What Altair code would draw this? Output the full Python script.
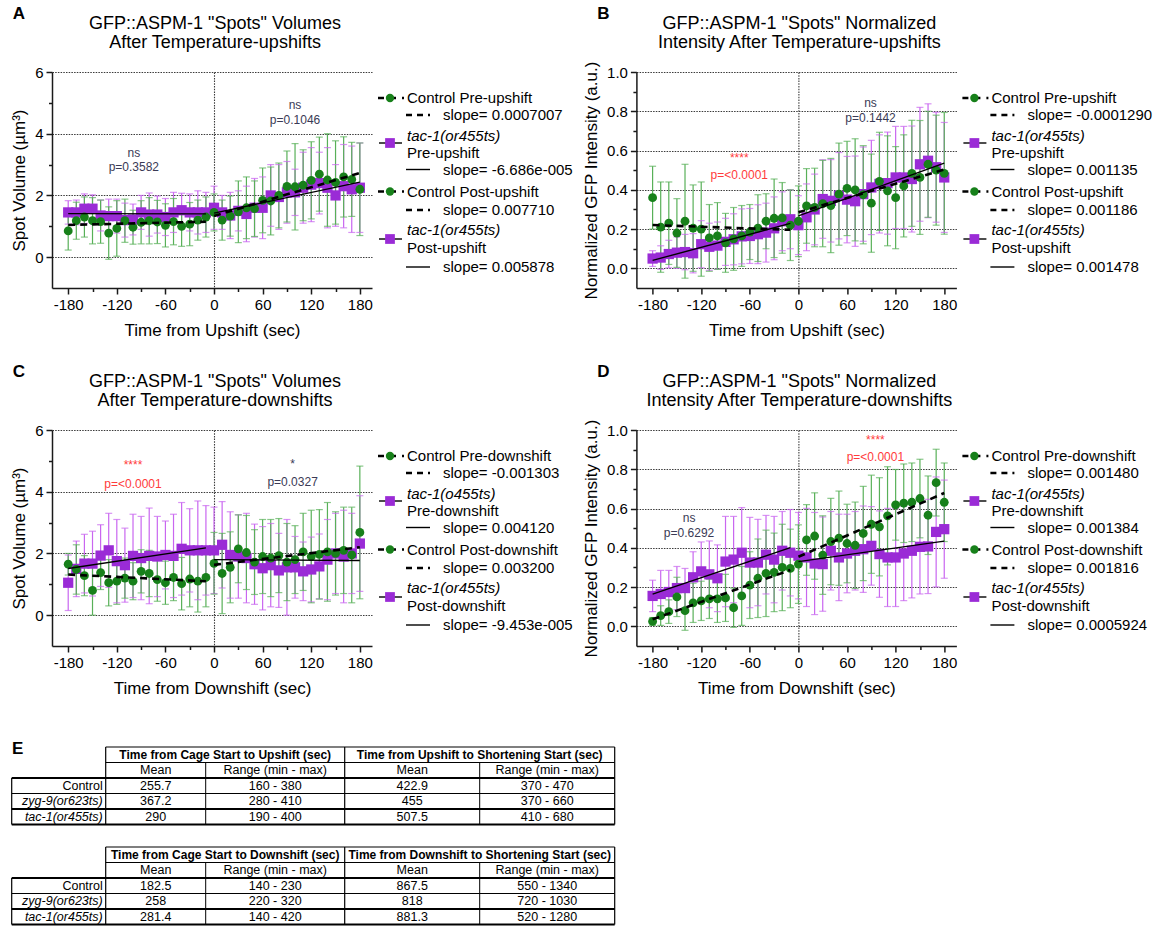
import altair as alt
import pandas as pd

FONT = "Liberation Sans"
TFONT = "Liberation Sans Narrow, Liberation Sans, sans-serif"

# ---------------- data ----------------
TIME = list(range(-180, 181, 10))

A_CTRL = [0.85, 1.18, 1.30, 1.18, 1.15, 0.78, 0.93, 1.18, 0.97, 1.13, 1.18, 1.14, 1.03, 1.15, 1.00, 1.07, 1.20, 1.30,
          1.45, 1.20, 1.33, 1.47, 1.60, 1.57, 1.84, 1.82, 2.00, 2.29, 2.28, 2.33, 2.49, 2.69, 2.50, 2.42, 2.60, 2.52, 2.20]
A_CTRL_SD = [0.62, 0.60, 0.65, 0.75, 0.70, 0.85, 0.90, 0.70, 0.55, 0.70, 0.75, 0.70, 0.70, 0.75, 0.65, 0.70, 0.65, 0.65,
             0.60, 0.65, 0.65, 1.00, 1.00, 0.90, 1.05, 1.10, 1.05, 1.15, 1.40, 1.15, 1.25, 1.20, 1.50, 1.35, 1.30, 1.20, 1.50]
A_TAC = [1.45, 1.45, 1.57, 1.57, 1.35, 1.33, 1.33, 1.20, 1.22, 1.45, 1.38, 1.38, 1.30, 1.45, 1.52, 1.45, 1.45, 1.45,
         1.60, 1.45, 1.35, 1.50, 1.40, 1.60, 1.60, 2.00, 1.95, 2.10, 2.10, 2.25, 2.35, 2.40, 2.25, 2.00, 2.30, 2.20, 2.25]
A_TAC_SD = [0.38, 0.40, 0.48, 0.45, 0.50, 0.55, 0.55, 0.55, 0.50, 0.55, 0.70, 0.60, 0.60, 0.65, 0.55, 0.60, 0.70, 0.65,
            0.70, 0.55, 0.75, 0.65, 0.90, 0.95, 1.00, 1.00, 1.05, 1.00, 0.75, 1.15, 1.20, 1.00, 1.30, 1.00, 1.35, 1.40, 1.45]

B_CTRL = [0.36, 0.21, 0.23, 0.18, 0.24, 0.205, 0.20, 0.155, 0.165, 0.13, 0.15, 0.165, 0.185, 0.205, 0.24, 0.255, 0.257, 0.22,
          0.24, 0.318, 0.31, 0.33, 0.32, 0.378, 0.407, 0.40, 0.375, 0.332, 0.443, 0.395, 0.36, 0.42, 0.484, 0.463, 0.53, 0.50, 0.484]
B_CTRL_SD = [0.16, 0.23, 0.21, 0.175, 0.29, 0.22, 0.24, 0.17, 0.17, 0.15, 0.16, 0.155, 0.14, 0.17, 0.14, 0.20, 0.18, 0.18,
             0.18, 0.19, 0.20, 0.22, 0.24, 0.26, 0.24, 0.26, 0.25, 0.25, 0.25, 0.28, 0.26, 0.26, 0.27, 0.29, 0.27, 0.28, 0.31]
B_TAC = [0.05, 0.055, 0.073, 0.08, 0.083, 0.077, 0.123, 0.11, 0.116, 0.135, 0.148, 0.163, 0.165, 0.174, 0.182, 0.204, 0.24, 0.25,
         0.22, 0.26, 0.30, 0.353, 0.344, 0.37, 0.35, 0.342, 0.378, 0.412, 0.43, 0.434, 0.463, 0.463, 0.455, 0.53, 0.548, 0.515, 0.463]
B_TAC_SD = [0.04, 0.06, 0.07, 0.08, 0.09, 0.10, 0.12, 0.12, 0.12, 0.12, 0.13, 0.14, 0.14, 0.15, 0.15, 0.16, 0.15, 0.15,
            0.15, 0.17, 0.18, 0.20, 0.21, 0.22, 0.22, 0.23, 0.24, 0.24, 0.25, 0.26, 0.26, 0.26, 0.27, 0.29, 0.29, 0.28, 0.28]

C_CTRL = [1.65, 1.48, 1.28, 0.80, 1.38, 1.05, 1.10, 1.20, 1.10, 1.42, 1.35, 1.15, 1.05, 1.22, 1.02, 1.17, 1.10, 1.22,
          1.68, 1.35, 1.55, 2.15, 2.03, 1.72, 1.90, 1.85, 1.93, 1.72, 1.80, 2.05, 1.90, 1.97, 2.05, 2.00, 2.10, 1.95, 2.68]
C_CTRL_SD = [0.35, 0.80, 0.65, 0.80, 0.55, 0.75, 0.75, 0.65, 0.60, 0.70, 0.75, 0.70, 0.70, 0.75, 0.85, 0.90, 1.00, 0.95,
             1.00, 1.30, 1.15, 1.10, 1.20, 1.05, 1.20, 1.25, 1.20, 1.25, 1.10, 1.25, 1.50, 1.45, 1.60, 1.35, 1.40, 1.55, 2.15]
C_TAC = [1.05, 1.50, 1.67, 1.67, 1.93, 2.10, 1.75, 1.62, 1.92, 1.85, 1.92, 1.90, 1.95, 1.92, 2.15, 2.10, 2.10, 2.10,
         2.10, 2.28, 1.95, 1.90, 1.85, 1.65, 1.52, 1.62, 1.45, 1.55, 1.55, 1.42, 1.48, 1.58, 1.80, 2.00, 1.90, 2.00, 2.32]
C_TAC_SD = [0.90, 0.90, 0.95, 1.05, 1.00, 1.20, 1.35, 1.20, 1.35, 1.35, 1.55, 1.30, 1.10, 1.35, 1.50, 1.35, 1.60, 1.45,
            1.40, 1.40, 1.40, 1.35, 1.45, 1.30, 1.35, 1.35, 1.20, 1.55, 1.00, 0.95, 1.05, 1.05, 1.30, 1.30, 1.50, 1.30, 1.55]

D_CTRL = [0.025, 0.055, 0.075, 0.15, 0.08, 0.12, 0.13, 0.14, 0.14, 0.145, 0.095, 0.155, 0.21, 0.245, 0.27, 0.275, 0.30, 0.295,
          0.317, 0.44, 0.46, 0.363, 0.432, 0.449, 0.422, 0.413, 0.473, 0.52, 0.507, 0.563, 0.619, 0.627, 0.632, 0.651, 0.566, 0.732, 0.632]
D_CTRL_SD = [0.02, 0.05, 0.06, 0.10, 0.10, 0.10, 0.10, 0.10, 0.12, 0.12, 0.10, 0.15, 0.17, 0.20, 0.22, 0.20, 0.22, 0.20,
             0.20, 0.18, 0.22, 0.20, 0.22, 0.24, 0.20, 0.22, 0.24, 0.25, 0.25, 0.25, 0.18, 0.20, 0.20, 0.20, 0.20, 0.17, 0.20]
D_TAC = [0.155, 0.165, 0.175, 0.195, 0.195, 0.25, 0.28, 0.265, 0.245, 0.33, 0.34, 0.375, 0.325, 0.325, 0.365, 0.34, 0.385, 0.375,
         0.36, 0.351, 0.32, 0.317, 0.385, 0.351, 0.371, 0.385, 0.393, 0.41, 0.368, 0.351, 0.351, 0.371, 0.385, 0.405, 0.407, 0.481, 0.495]
D_TAC_SD = [0.08, 0.12, 0.11, 0.11, 0.10, 0.13, 0.15, 0.17, 0.17, 0.23, 0.22, 0.23, 0.23, 0.22, 0.20, 0.22, 0.20, 0.22,
            0.22, 0.25, 0.26, 0.24, 0.20, 0.22, 0.20, 0.20, 0.22, 0.20, 0.22, 0.25, 0.25, 0.24, 0.24, 0.24, 0.24, 0.28, 0.25]

# significance annotations: text, time, value, significant?
A_ANN = (["ns", "p=0.3582", "ns", "p=0.1046"], [-99, -99, 100, 100], [3.38, 2.92, 4.92, 4.45], [False, False, False, False])
B_ANN = (["****", "p=<0.0001", "ns", "p=0.1442"], [-73, -73, 89, 89], [0.56, 0.475, 0.843, 0.765], [True, True, False, False])
C_ANN = (["****", "p=<0.0001", "*", "p=0.0327"], [-100, -100, 97, 97], [4.86, 4.26, 4.90, 4.30], [True, True, False, False])
D_ANN = (["ns", "p=0.6292", "****", "p=<0.0001"], [-135, -135, 95, 95], [0.554, 0.478, 0.947, 0.863], [False, False, True, True])

A_LEG = ["Control Pre-upshift", "slope= 0.0007007", "tac-1(or455ts)", "Pre-upshift", "slope= -6.686e-005",
         "Control Post-upshift", "slope= 0.007710", "tac-1(or455ts)", "Post-upshift", "slope= 0.005878"]
B_LEG = ["Control Pre-upshift", "slope= -0.0001290", "tac-1(or455ts)", "Pre-upshift", "slope= 0.001135",
         "Control Post-upshift", "slope= 0.001186", "tac-1(or455ts)", "Post-upshift", "slope= 0.001478"]
C_LEG = ["Control Pre-downshift", "slope= -0.001303", "tac-1(o455ts)", "Pre-downshift", "slope= 0.004120",
         "Control Post-downshift", "slope= 0.003200", "tac-1(or455ts)", "Post-downshift", "slope= -9.453e-005"]
D_LEG = ["Control Pre-downshift", "slope= 0.001480", "tac-1(or455ts)", "Pre-downshift", "slope= 0.001384",
         "Control Post-downshift", "slope= 0.001816", "tac-1(or455ts)", "Post-downshift", "slope= 0.0005924"]

A_TITLE = ["GFP::ASPM-1 \"Spots\" Volumes", "After Temperature-upshifts"]
B_TITLE = ["GFP::ASPM-1 \"Spots\" Normalized", "Intensity After Temperature-upshifts"]
C_TITLE = ["GFP::ASPM-1 \"Spots\" Volumes", "After Temperature-downshifts"]
D_TITLE = ["GFP::ASPM-1 \"Spots\" Normalized", "Intensity After Temperature-downshifts"]

VOL_TITLE = "Spot Volume (\u00b5m\u00b3)"
INT_TITLE = "Normalized GFP Intensity (a.u.)"

TAB_ROWS = ["Control", "zyg-9(or623ts)", "tac-1(or455ts)"]
TAB_SUB = ["Mean", "Range (min - max)", "Mean", "Range (min - max)"]
TAB1_HEAD = ["Time from Cage Start to Upshift (sec)", "Time from Upshift to Shortening Start (sec)"]
TAB1_VALS = [["255.7", "160 - 380", "422.9", "370 - 470"],
             ["367.2", "280 - 410", "455", "370 - 660"],
             ["290", "190 - 400", "507.5", "410 - 680"]]
TAB2_HEAD = ["Time from Cage Start to Downshift (sec)", "Time from Downshift to Shortening Start (sec)"]
TAB2_VALS = [["182.5", "140 - 230", "867.5", "550 - 1340"],
             ["258", "220 - 320", "818", "720 - 1030"],
             ["281.4", "140 - 420", "881.3", "520 - 1280"]]

# ---------------- style / layout ----------------
GREEN = "#17801a"
GREEN_EB = "#58b058"
PURPLE = "#9a2bd6"
PURPLE_EB = "#c966f0"
NS_COLOR = "#3a3a55"
SIG_COLOR = "#ff3b3b"

W, H = 320, 216
LEFT, TOP = 52.3, 72.0
HSP, VSP = 264.4, 142.0

DUMMY = pd.DataFrame({"k": [0]})


def make_df(ctrl, ctrl_sd, tac, tac_sd):
    rows = []
    for grp, means, sds in (("tac", tac, tac_sd), ("ctrl", ctrl, ctrl_sd)):
        for t, m, s in zip(TIME, means, sds):
            rows.append(dict(t=t, group=grp, phase="pre" if t < 0 else "post",
                             mean=m, lo=m - s, hi=m + s))
    return pd.DataFrame(rows)


def cond(test, a, b):
    return {"condition": {"test": test, "value": a}, "value": b}


def axis(**kw):
    base = dict(labelFont=FONT, labelFontSize=15, labelColor="black",
                titleFont=FONT, titleFontSize=17, titleFontWeight="normal", titleColor="black",
                domainColor="#1a1a1a", domainWidth=1.5, tickColor="#1a1a1a", tickWidth=1.5,
                labelOverlap=False, labelFlush=False,
                gridColor="#3a3a3a", gridDash=[1.5, 1.2], gridWidth=1.1)
    base.update(kw)
    return alt.Axis(**base)


def text_at(s, x, y, size=15, italic=False, bold=False, align="left", color="black", font=FONT):
    return alt.Chart(pd.DataFrame({"s": [s]})).mark_text(
        align=align, baseline="middle", fontSize=size, font=font, color=color,
        fontStyle="italic" if italic else "normal", fontWeight="bold" if bold else "normal"
    ).encode(x=alt.value(x), y=alt.value(y), text="s:N")


def hline(x0, x1, y, width, dash=None):
    kw = dict(color="black", strokeWidth=width)
    if dash:
        kw["strokeDash"] = dash
    return alt.Chart(DUMMY).mark_rule(**kw).encode(x=alt.value(x0), x2=alt.value(x1), y=alt.value(y))


def legend_layers(labels):
    ys = dict(c1=26, c1s=43, t1a=64, t1sym=71, t1b=80.5, t1s=97.5,
              c2=119.5, c2s=138, t2a=158, t2sym=167, t2b=176, t2s=195)
    TX, SX = 355, 391
    out = []
    for key, lab, slope in (("c1", labels[0], labels[1]), ("c2", labels[5], labels[6])):
        y = ys[key]
        out.append(hline(326, 352, y, 2.6, [6, 6]))
        out.append(alt.Chart(DUMMY).mark_point(shape="circle", filled=True, size=70, opacity=1, color=GREEN)
                   .encode(x=alt.value(338), y=alt.value(y)))
        out.append(text_at(lab, TX, y))
        out.append(hline(354, 378, ys[key + "s"], 2.6, [6, 5]))
        out.append(text_at(slope, SX, ys[key + "s"]))
    for key, ital, lab, slope in (("t1", labels[2], labels[3], labels[4]), ("t2", labels[7], labels[8], labels[9])):
        ysym = ys[key + "sym"]
        out.append(hline(327, 350, ysym, 1.4))
        out.append(alt.Chart(DUMMY).mark_point(shape="square", filled=True, size=95, opacity=1, color=PURPLE)
                   .encode(x=alt.value(338), y=alt.value(ysym)))
        out.append(text_at(ital, TX, ys[key + "a"], italic=True))
        out.append(text_at(lab, TX, ys[key + "b"]))
        out.append(hline(354, 378, ys[key + "s"], 1.4))
        out.append(text_at(slope, SX, ys[key + "s"]))
    return out


def panel(df, ydom, yvals, ymaj, yfmt, ytitle, xtitle, title, letter, ann, leg, anchor=False):
    xs = alt.Scale(domain=[-200, 195], nice=False, zero=False)
    ys = alt.Scale(domain=ydom, nice=False, zero=False)
    xmaj = "datum.value % 60 == 0"
    xaxis = axis(title=xtitle, values=list(range(-180, 181, 30)),
                 labelExpr=f"({xmaj}) ? toString(datum.value) : ''",
                 tickSize=cond(xmaj, 6, 3.5), grid=True,
                 gridOpacity=cond("datum.value == 0", 1, 0),
                 labelPadding=3, titlePadding=10)
    yaxis = axis(title=ytitle, values=yvals, format=yfmt,
                 labelExpr=f"({ymaj}) ? datum.label : ''",
                 tickSize=cond(ymaj, 6, 3.5), grid=True,
                 gridOpacity=cond(ymaj, 1, 0),
                 labelPadding=3, titlePadding=6)
    X = alt.X("t:Q", scale=xs, axis=xaxis)

    def Y(f):
        return alt.Y(f"{f}:Q", scale=ys, axis=yaxis)

    col = alt.Color("group:N", scale=alt.Scale(domain=["tac", "ctrl"], range=[PURPLE_EB, GREEN_EB]), legend=None)
    base = alt.Chart(df)
    layers = [
        base.mark_rule(strokeWidth=1.2).encode(x=X, y=Y("lo"), y2="hi:Q", color=col),
        base.mark_tick(orient="horizontal", size=7, thickness=1.2).encode(x=X, y=Y("hi"), color=col),
        base.mark_tick(orient="horizontal", size=7, thickness=1.2).encode(x=X, y=Y("lo"), color=col),
        base.transform_filter("datum.group == 'tac'").mark_point(
            shape="square", filled=True, size=105, opacity=1, color=PURPLE).encode(x=X, y=Y("mean")),
        base.transform_filter("datum.group == 'ctrl'").mark_circle(
            size=78, opacity=1, color=GREEN).encode(x=X, y=Y("mean")),
        base.transform_filter("datum.group == 'tac'").transform_regression(
            "t", "mean", groupby=["phase"]).mark_line(color="black", strokeWidth=1.4).encode(
            x=X, y=Y("mean"), detail="phase:N"),
        base.transform_filter("datum.group == 'ctrl'").transform_regression(
            "t", "mean", groupby=["phase"]).mark_line(color="black", strokeWidth=2.6, strokeDash=[7, 5]).encode(
            x=X, y=Y("mean"), detail="phase:N"),
    ]
    adf = pd.DataFrame({"text": ann[0], "t": ann[1], "v": ann[2], "sig": ann[3]})
    layers.append(alt.Chart(adf).transform_filter("!datum.sig").mark_text(
        fontSize=12, font=FONT, color=NS_COLOR).encode(x=X, y=Y("v"), text="text:N"))
    layers.append(alt.Chart(adf).transform_filter("datum.sig").mark_text(
        fontSize=12, font=FONT, color=SIG_COLOR).encode(x=X, y=Y("v"), text="text:N"))
    layers += legend_layers(leg)
    # panel letter and two-line heading
    layers.append(text_at(letter, -33, -58, size=17, bold=True, align="center"))
    layers.append(text_at(title[0], W / 2 + 3, -48, size=18, align="center"))
    layers.append(text_at(title[1], W / 2 + 3, -29.5, size=18, align="center"))
    if anchor:
        layers.append(alt.Chart(DUMMY).mark_rule(opacity=0, strokeWidth=1).encode(
            x=alt.value(-LEFT + 0.5), x2=alt.value(-LEFT + 2), y=alt.value(-TOP + 0.5)))
    return alt.layer(*layers).properties(width=W, height=H)


VOL_VALS = [0, 1, 2, 3, 4, 5, 6]
VOL_MAJ = "datum.value % 2 == 0"
INT_VALS = [round(0.1 * i, 1) for i in range(0, 11)]
INT_MAJ = "round(datum.value * 10) % 2 == 0"

pA = panel(make_df(A_CTRL, A_CTRL_SD, A_TAC, A_TAC_SD), [-1, 6], VOL_VALS, VOL_MAJ, "d", VOL_TITLE,
           "Time from Upshift (sec)", A_TITLE, "A", A_ANN, A_LEG, anchor=True)
pB = panel(make_df(B_CTRL, B_CTRL_SD, B_TAC, B_TAC_SD), [-0.1, 1.0], INT_VALS, INT_MAJ, ".1f", INT_TITLE,
           "Time from Upshift (sec)", B_TITLE, "B", B_ANN, B_LEG)
pC = panel(make_df(C_CTRL, C_CTRL_SD, C_TAC, C_TAC_SD), [-1, 6], VOL_VALS, VOL_MAJ, "d", VOL_TITLE,
           "Time from Downshift (sec)", C_TITLE, "C", C_ANN, C_LEG)
pD = panel(make_df(D_CTRL, D_CTRL_SD, D_TAC, D_TAC_SD), [-0.1, 1.0], INT_VALS, INT_MAJ, ".1f", INT_TITLE,
           "Time from Downshift (sec)", D_TITLE, "D", D_ANN, D_LEG)

# ---------------- table panel E ----------------
E_TOP = TOP + 2 * H + 2 * VSP
EX = alt.Scale(domain=[LEFT, LEFT + W], nice=False, zero=False)
EY = alt.Scale(domain=[E_TOP, E_TOP + H], nice=False, zero=False, reverse=True)
COL_EDGES = [12, 106, 206, 345, 480, 615]
RH = 15.5
TABLE_TOPS = [747, 847]

cells, labels, lines = [], [], []
for top, heads, vals in ((TABLE_TOPS[0], TAB1_HEAD, TAB1_VALS), (TABLE_TOPS[1], TAB2_HEAD, TAB2_VALS)):
    e = COL_EDGES
    for i, h in enumerate(heads):
        cells.append(dict(x=(e[1 + 2 * i] + e[3 + 2 * i]) / 2, y=top + RH * 0.5, s=h, w="bold"))
    for j, s in enumerate(TAB_SUB):
        cells.append(dict(x=(e[1 + j] + e[2 + j]) / 2, y=top + RH * 1.5, s=s, w="normal"))
    for r, (lab, row) in enumerate(zip(TAB_ROWS, vals)):
        yy = top + RH * (2.5 + r)
        labels.append(dict(x=e[1] - 3, y=yy, s=lab, it=(r > 0)))
        for j, s in enumerate(row):
            cells.append(dict(x=(e[1 + j] + e[2 + j]) / 2, y=yy, s=s, w="normal"))
    bot = top + RH * 5
    lines += [
        dict(x=e[1], x2=e[5], y=top, y2=top, w=1.2),
        dict(x=e[1], x2=e[5], y=top + RH, y2=top + RH, w=1.0),
        dict(x=e[0], x2=e[5], y=top + 2 * RH, y2=top + 2 * RH, w=1.8),
        dict(x=e[0], x2=e[5], y=top + 3 * RH, y2=top + 3 * RH, w=1.0),
        dict(x=e[0], x2=e[5], y=top + 4 * RH, y2=top + 4 * RH, w=1.8),
        dict(x=e[0], x2=e[5], y=bot, y2=bot, w=1.8),
        dict(x=e[0], x2=e[0], y=top + 2 * RH, y2=bot, w=1.2),
        dict(x=e[1], x2=e[1], y=top, y2=bot, w=1.2),
        dict(x=e[2], x2=e[2], y=top + RH, y2=bot, w=1.0),
        dict(x=e[3], x2=e[3], y=top, y2=bot, w=1.2),
        dict(x=e[4], x2=e[4], y=top + RH, y2=bot, w=1.0),
        dict(x=e[5], x2=e[5], y=top, y2=bot, w=1.2),
    ]

cdf = pd.DataFrame(cells)
ldf = pd.DataFrame(labels)
rdf = pd.DataFrame(lines)
EXe = alt.X("x:Q", scale=EX, axis=None)
EYe = alt.Y("y:Q", scale=EY, axis=None)

e_layers = [
    alt.Chart(rdf).mark_rule(color="black").encode(
        x=EXe, x2="x2:Q", y=EYe, y2="y2:Q",
        strokeWidth=alt.StrokeWidth("w:Q", scale=None, legend=None)),
    alt.Chart(cdf).transform_filter("datum.w == 'bold'").mark_text(
        fontSize=12, font=TFONT, fontWeight="bold", color="black").encode(x=EXe, y=EYe, text="s:N"),
    alt.Chart(cdf).transform_filter("datum.w == 'normal'").mark_text(
        fontSize=12.5, font=TFONT, color="black").encode(x=EXe, y=EYe, text="s:N"),
    alt.Chart(ldf).transform_filter("!datum.it").mark_text(
        fontSize=12.5, font=TFONT, align="right", color="black").encode(x=EXe, y=EYe, text="s:N"),
    alt.Chart(ldf).transform_filter("datum.it").mark_text(
        fontSize=12.5, font=TFONT, align="right", fontStyle="italic", color="black").encode(x=EXe, y=EYe, text="s:N"),
    text_at("E", 18 - LEFT, 749 - E_TOP, size=17, bold=True, align="center"),
]
pE = alt.layer(*e_layers).properties(width=W, height=H)

chart = alt.concat(pA, pB, pC, pD, pE, columns=2, spacing={"row": VSP, "column": HSP},
                   bounds="flush").configure_view(stroke=None).properties(padding=0, background="white")

chart.save("out.html", embed_options={"renderer": "svg", "actions": False})
